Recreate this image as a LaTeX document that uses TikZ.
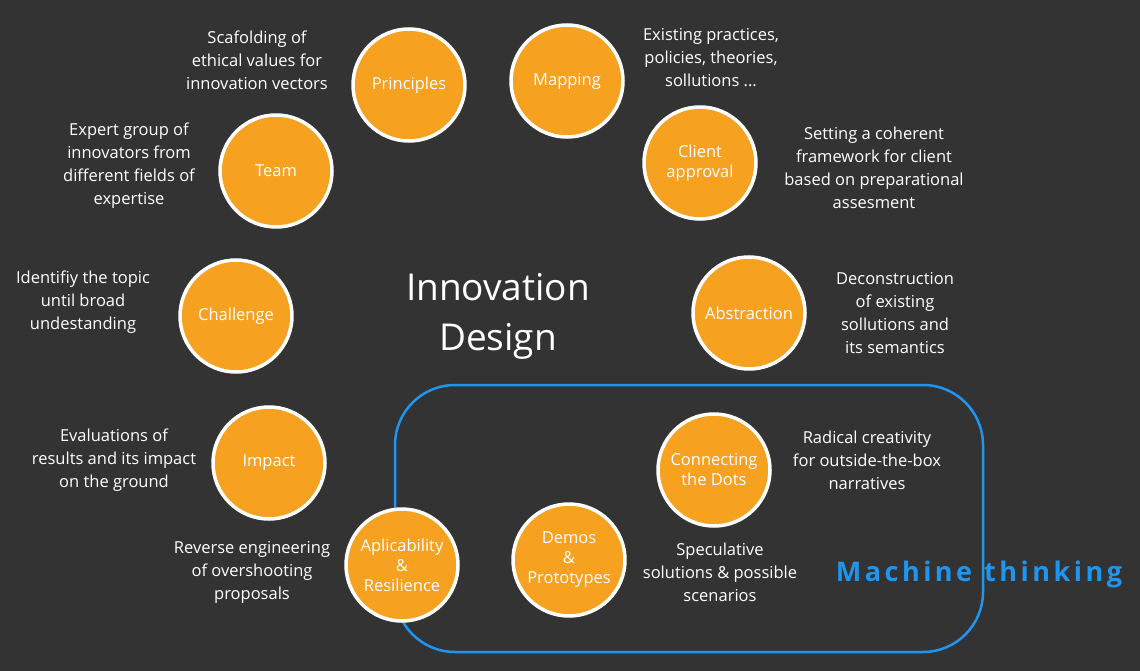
\documentclass[tikz,border=0pt]{standalone}
\usepackage{fontspec}
\setmainfont{Open Sans}
\begin{document}
\begin{tikzpicture}[x=1pt,y=-1pt,
  circ/.style={circle,fill=orange!90!yellow!95!red,draw=white,line width=3.5pt,minimum size=112pt,inner sep=0pt,text=white,align=center,font=\fontsize{16.5}{20}\selectfont},
  lbl/.style={text=white,align=center,font=\fontsize{16.5}{23}\selectfont}]
\definecolor{bg}{HTML}{333333}
\definecolor{org}{HTML}{F7A121}
\definecolor{blu}{HTML}{1F95F0}
\tikzset{circ/.append style={fill=org}}
\fill[bg] (0,0) rectangle (1140,671);
\useasboundingbox (0,0) rectangle (1140,671);
\draw[blu,line width=2.5pt,rounded corners=60pt] (395,385) rectangle (983,652);
\node[circ] (pr) at (409,85) {Principles};
\node[circ] (ma) at (567,81) {Mapping};
\node[circ] (cl) at (700,163) {Client\\approval};
\node[circ] (te) at (276,171) {Team};
\node[circ] (ch) at (236,316) {Challenge};
\node[circ] (ab) at (749,313) {Abstraction};
\node[circ] (im) at (269,463) {Impact};
\node[circ] (co) at (714,470) {Connecting\\the Dots};
\node[circ] (de) at (569,560) {Demos\\\&\\Prototypes};
\node[circ] (ap) at (402,565) {Aplicability\\\&\\Resilience};
\node[lbl] (t1) at (257,60) {Scafolding of\\ethical values for\\innovation vectors};
\node[lbl] (t2) at (711,58) {Existing practices,\\policies, theories,\\sollutions ...};
\node[lbl] (t3) at (129,166) {Expert group of\\innovators from\\different fields of\\expertise};
\node[lbl] (t4) at (874,168) {Setting a coherent\\framework for client\\based on preparational\\assesment};
\node[lbl] (t5) at (83,302) {Identifiy the topic\\until broad\\undestanding};
\node[lbl] (t6) at (895,313) {Deconstruction\\of existing\\sollutions and\\its semantics};
\node[lbl] (t7) at (114,460) {Evaluations of\\results and its impact\\on the ground};
\node[lbl] (t8) at (867,460) {Radical creativity\\for outside-the-box\\narratives};
\node[lbl] (t9) at (252,572) {Reverse engineering\\of overshooting\\proposals};
\node[lbl] (t10) at (720,572) {Speculative\\solutions \& possible\\scenarios};
\node[text=white,align=center,font=\fontsize{37}{50}\selectfont] (title) at (498,316) {Innovation\\Design};
\node[text=blu,font=\bfseries\fontsize{27}{30}\selectfont] (mt) at (979,574) {M\kern3.5pt a\kern3.5pt c\kern3.5pt h\kern3.5pt i\kern3.5pt n\kern3.5pt e\hspace{12pt}t\kern3.5pt h\kern3.5pt i\kern3.5pt n\kern3.5pt k\kern3.5pt i\kern3.5pt n\kern3.5pt g};
\end{tikzpicture}
\end{document}
